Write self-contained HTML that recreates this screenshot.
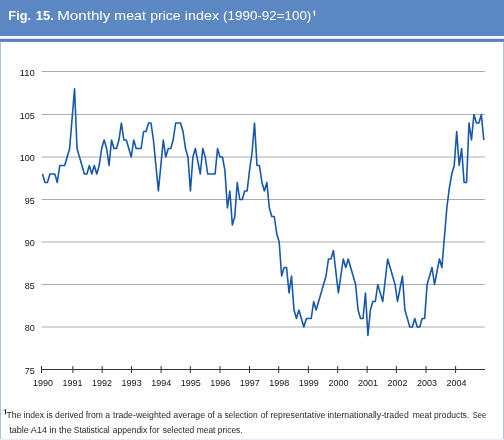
<!DOCTYPE html>
<html><head><meta charset="utf-8"><style>
html,body{margin:0;padding:0;background:#fff;}
body{width:504px;height:440px;position:relative;overflow:hidden;font-family:"Liberation Sans",sans-serif;}
svg{position:absolute;left:0;top:0;will-change:transform;}
svg text{font-family:"Liberation Sans",sans-serif;}
.lab{font-size:9.8px;fill:#111;}
.g{stroke:#acacac;stroke-width:1;}
.a{stroke:#333;stroke-width:1.1;}
.t{stroke:#333;stroke-width:1;}
.fn{font-size:8.8px;fill:#262626;}
.tt{font-size:12.4px;fill:#fff;stroke:#fff;stroke-width:0.0px;}
</style></head><body>
<svg width="504" height="440" viewBox="0 0 504 440">
<rect x="0" y="0" width="504" height="36.0" fill="#5b88c2"/>
<rect x="0" y="38.8" width="504" height="3.1" fill="#5283c0"/>
<rect x="0" y="41.9" width="1" height="420" fill="#a9c1de"/>
<rect x="503" y="41.9" width="1" height="420" fill="#a9c1de"/>
<rect x="0" y="439" width="504" height="1" fill="#e6edf6"/>
<text class="tt" x="8.38" y="20.0" style="font-size:12.4px" font-weight="bold" textLength="22.58" lengthAdjust="spacingAndGlyphs">Fig.</text>
<text class="tt" x="35.87" y="20.0" style="font-size:12.4px" font-weight="bold" textLength="17.89" lengthAdjust="spacingAndGlyphs">15.</text>
<text class="tt" x="57.21" y="20.0" style="font-size:12.4px" textLength="53.06" lengthAdjust="spacingAndGlyphs">Monthly</text>
<text class="tt" x="114.36" y="20.0" style="font-size:12.4px" textLength="31.50" lengthAdjust="spacingAndGlyphs">meat</text>
<text class="tt" x="150.18" y="20.0" style="font-size:12.4px" textLength="30.45" lengthAdjust="spacingAndGlyphs">price</text>
<text class="tt" x="184.83" y="20.0" style="font-size:12.4px" textLength="34.28" lengthAdjust="spacingAndGlyphs">index</text>
<text class="tt" x="223.10" y="20.0" style="font-size:12.4px" textLength="88.19" lengthAdjust="spacingAndGlyphs">(1990-92=100)</text>
<path d="M313.4,12.7 L314.5,11.4 L314.5,15.7" fill="none" stroke="#fff" stroke-width="1.15"/>
<g class="lab">
<line x1="41.5" x2="485" y1="327.00" y2="327.00" class="g"/>
<line x1="41.5" x2="485" y1="284.50" y2="284.50" class="g"/>
<line x1="41.5" x2="485" y1="242.00" y2="242.00" class="g"/>
<line x1="41.5" x2="485" y1="199.50" y2="199.50" class="g"/>
<line x1="41.5" x2="485" y1="157.00" y2="157.00" class="g"/>
<line x1="41.5" x2="485" y1="114.50" y2="114.50" class="g"/>
<line x1="41.5" x2="485" y1="71.50" y2="71.50" class="g"/>

<line x1="41.5" x2="485" y1="369.5" y2="369.5" class="a"/>
<line x1="41.5" x2="41.5" y1="366" y2="373" class="t"/>
<line x1="72.9" x2="72.9" y1="366" y2="373" class="t"/>
<line x1="102.2" x2="102.2" y1="366" y2="373" class="t"/>
<line x1="131.5" x2="131.5" y1="366" y2="373" class="t"/>
<line x1="161.1" x2="161.1" y1="366" y2="373" class="t"/>
<line x1="190.3" x2="190.3" y1="366" y2="373" class="t"/>
<line x1="220" x2="220" y1="366" y2="373" class="t"/>
<line x1="249.5" x2="249.5" y1="366" y2="373" class="t"/>
<line x1="278.7" x2="278.7" y1="366" y2="373" class="t"/>
<line x1="308.4" x2="308.4" y1="366" y2="373" class="t"/>
<line x1="337.7" x2="337.7" y1="366" y2="373" class="t"/>
<line x1="367.1" x2="367.1" y1="366" y2="373" class="t"/>
<line x1="396.4" x2="396.4" y1="366" y2="373" class="t"/>
<line x1="426" x2="426" y1="366" y2="373" class="t"/>
<line x1="455.6" x2="455.6" y1="366" y2="373" class="t"/>

<text x="34.7" y="373.80" text-anchor="end" textLength="10.03" lengthAdjust="spacingAndGlyphs">75</text>
<text x="34.7" y="331.30" text-anchor="end" textLength="10.03" lengthAdjust="spacingAndGlyphs">80</text>
<text x="34.7" y="288.80" text-anchor="end" textLength="10.03" lengthAdjust="spacingAndGlyphs">85</text>
<text x="34.7" y="246.30" text-anchor="end" textLength="10.03" lengthAdjust="spacingAndGlyphs">90</text>
<text x="34.7" y="203.80" text-anchor="end" textLength="10.03" lengthAdjust="spacingAndGlyphs">95</text>
<text x="34.7" y="161.30" text-anchor="end" textLength="15.04" lengthAdjust="spacingAndGlyphs">100</text>
<text x="34.7" y="118.80" text-anchor="end" textLength="15.04" lengthAdjust="spacingAndGlyphs">105</text>
<text x="34.7" y="75.80" text-anchor="end" textLength="15.04" lengthAdjust="spacingAndGlyphs">110</text>

<text x="43.00" y="385.6" text-anchor="middle" textLength="20.05" lengthAdjust="spacingAndGlyphs">1990</text>
<text x="72.54" y="385.6" text-anchor="middle" textLength="20.05" lengthAdjust="spacingAndGlyphs">1991</text>
<text x="102.08" y="385.6" text-anchor="middle" textLength="20.05" lengthAdjust="spacingAndGlyphs">1992</text>
<text x="131.62" y="385.6" text-anchor="middle" textLength="20.05" lengthAdjust="spacingAndGlyphs">1993</text>
<text x="161.16" y="385.6" text-anchor="middle" textLength="20.05" lengthAdjust="spacingAndGlyphs">1994</text>
<text x="190.70" y="385.6" text-anchor="middle" textLength="20.05" lengthAdjust="spacingAndGlyphs">1995</text>
<text x="220.24" y="385.6" text-anchor="middle" textLength="20.05" lengthAdjust="spacingAndGlyphs">1996</text>
<text x="249.78" y="385.6" text-anchor="middle" textLength="20.05" lengthAdjust="spacingAndGlyphs">1997</text>
<text x="279.32" y="385.6" text-anchor="middle" textLength="20.05" lengthAdjust="spacingAndGlyphs">1998</text>
<text x="308.86" y="385.6" text-anchor="middle" textLength="20.05" lengthAdjust="spacingAndGlyphs">1999</text>
<text x="338.40" y="385.6" text-anchor="middle" textLength="20.05" lengthAdjust="spacingAndGlyphs">2000</text>
<text x="367.94" y="385.6" text-anchor="middle" textLength="20.05" lengthAdjust="spacingAndGlyphs">2001</text>
<text x="397.48" y="385.6" text-anchor="middle" textLength="20.05" lengthAdjust="spacingAndGlyphs">2002</text>
<text x="427.02" y="385.6" text-anchor="middle" textLength="20.05" lengthAdjust="spacingAndGlyphs">2003</text>
<text x="456.56" y="385.6" text-anchor="middle" textLength="20.05" lengthAdjust="spacingAndGlyphs">2004</text>

</g>
<polyline points="42.50,174.00 44.97,182.50 47.43,182.50 49.90,174.00 52.36,174.00 54.83,174.00 57.29,182.50 59.76,165.50 62.22,165.50 64.69,165.50 67.15,157.00 69.62,148.50 72.08,118.75 74.55,88.70 77.02,148.50 79.48,157.00 81.95,165.50 84.41,174.00 86.88,174.00 89.34,165.50 91.81,174.00 94.27,165.50 96.74,174.00 99.20,165.50 101.67,148.50 104.13,140.00 106.60,148.50 109.07,165.50 111.53,140.00 114.00,148.50 116.46,148.50 118.93,140.00 121.39,123.00 123.86,140.00 126.32,140.00 128.79,148.50 131.25,157.00 133.72,140.00 136.19,148.50 138.65,148.50 141.12,148.50 143.58,131.50 146.05,131.50 148.51,123.00 150.98,123.00 153.44,140.00 155.91,165.50 158.37,191.00 160.84,165.50 163.30,140.00 165.77,157.00 168.24,148.50 170.70,148.50 173.17,140.00 175.63,123.00 178.10,123.00 180.56,123.00 183.03,131.50 185.49,148.50 187.96,157.00 190.42,191.00 192.89,157.00 195.35,148.50 197.82,161.25 200.29,174.00 202.75,148.50 205.22,157.00 207.68,174.00 210.15,174.00 212.61,174.00 215.08,174.00 217.54,148.50 220.01,157.00 222.47,157.00 224.94,170.60 227.40,208.00 229.87,191.00 232.34,225.00 234.80,216.50 237.27,182.50 239.73,199.50 242.20,199.50 244.66,191.00 247.13,191.00 249.59,169.75 252.06,152.75 254.52,123.00 256.99,165.50 259.46,165.50 261.92,182.50 264.39,191.00 266.85,182.50 269.32,208.00 271.78,216.50 274.25,216.50 276.71,233.50 279.18,242.00 281.64,276.00 284.11,267.50 286.57,267.50 289.04,293.00 291.51,276.00 293.97,310.00 296.44,318.50 298.90,310.00 301.37,318.50 303.83,327.00 306.30,318.50 308.76,318.50 311.23,318.50 313.69,301.50 316.16,310.00 318.62,301.50 321.09,293.00 323.56,284.50 326.02,276.00 328.49,259.00 330.95,259.00 333.42,250.50 335.88,271.75 338.35,293.00 340.81,276.00 343.28,259.00 345.74,267.50 348.21,259.00 350.67,267.50 353.14,276.00 355.61,284.50 358.07,310.00 360.54,318.50 363.00,318.50 365.47,293.00 367.93,335.50 370.40,310.00 372.86,301.50 375.33,301.50 377.79,284.50 380.26,293.00 382.73,301.50 385.19,280.25 387.66,259.00 390.12,267.50 392.59,276.00 395.05,284.50 397.52,301.50 399.98,288.75 402.45,276.00 404.91,310.00 407.38,318.50 409.84,327.00 412.31,327.00 414.78,318.50 417.24,327.00 419.71,327.00 422.17,318.50 424.64,318.50 427.10,284.50 429.57,276.00 432.03,267.50 434.50,284.50 436.96,271.75 439.43,259.00 441.89,267.50 444.36,237.75 446.83,208.00 449.29,188.45 451.76,174.00 454.22,165.50 456.69,131.50 459.15,165.50 461.62,148.50 464.08,182.50 466.55,182.50 469.01,123.00 471.48,140.00 473.94,114.50 476.41,123.00 478.88,123.00 481.34,114.50 483.81,140.00" fill="none" stroke="#1758aa" stroke-width="1.6" stroke-linejoin="round" stroke-linecap="butt"/>
<text class="fn" x="6.38" y="417.6" style="font-size:9.2px" textLength="103.71" lengthAdjust="spacingAndGlyphs">The index is derived from a</text>
<text class="fn" x="113.04" y="417.6" style="font-size:9.2px" textLength="109.02" lengthAdjust="spacingAndGlyphs">trade-weighted average of a</text>
<text class="fn" x="224.40" y="417.6" style="font-size:9.2px" textLength="33.29" lengthAdjust="spacingAndGlyphs">selection</text>
<text class="fn" x="260.77" y="417.6" style="font-size:9.2px" textLength="64.52" lengthAdjust="spacingAndGlyphs">of representative</text>
<text class="fn" x="327.43" y="417.6" style="font-size:9.2px" textLength="81.32" lengthAdjust="spacingAndGlyphs">internationally-traded</text>
<text class="fn" x="412.75" y="417.6" style="font-size:9.2px" textLength="56.40" lengthAdjust="spacingAndGlyphs">meat products.</text>
<text class="fn" x="472.87" y="417.6" style="font-size:9.2px" textLength="13.28" lengthAdjust="spacingAndGlyphs">See</text>
<text class="fn" x="9.14" y="432.6" style="font-size:9.2px" textLength="62.58" lengthAdjust="spacingAndGlyphs">table A14 in the</text>
<text class="fn" x="73.85" y="432.6" style="font-size:9.2px" textLength="35.89" lengthAdjust="spacingAndGlyphs">Statistical</text>
<text class="fn" x="112.82" y="432.6" style="font-size:9.2px" textLength="46.70" lengthAdjust="spacingAndGlyphs">appendix for</text>
<text class="fn" x="162.84" y="432.6" style="font-size:9.2px" textLength="79.84" lengthAdjust="spacingAndGlyphs">selected meat prices.</text>
<path d="M4.3,410.6 L5.5,409.4 L5.5,414.4" fill="none" stroke="#262626" stroke-width="1"/>
</svg>
</body></html>
